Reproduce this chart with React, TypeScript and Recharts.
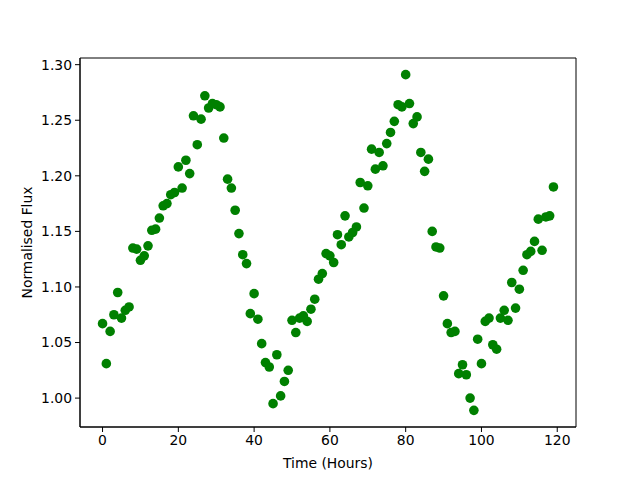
import {
  ScatterChart,
  Scatter,
  XAxis,
  YAxis,
  ReferenceArea,
  Label,
} from 'recharts';

const hours = [
  0, 1, 2, 3, 4, 5, 6, 7, 8, 9, 10, 11, 12, 13, 14, 15, 16, 17, 18, 19,
  20, 21, 22, 23, 24, 25, 26, 27, 28, 29, 30, 31, 32, 33, 34, 35, 36, 37, 38, 39,
  40, 41, 42, 43, 44, 45, 46, 47, 48, 49, 50, 51, 52, 53, 54, 55, 56, 57, 58, 59,
  60, 61, 62, 63, 64, 65, 66, 67, 68, 69, 70, 71, 72, 73, 74, 75, 76, 77, 78, 79,
  80, 81, 82, 83, 84, 85, 86, 87, 88, 89, 90, 91, 92, 93, 94, 95, 96, 97, 98, 99,
  100, 101, 102, 103, 104, 105, 106, 107, 108, 109, 110, 111, 112, 113, 114, 115, 116, 117, 118, 119,
];

const flux = [
  1.067, 1.031, 1.060, 1.075, 1.095, 1.072, 1.079, 1.082, 1.135, 1.134,
  1.124, 1.128, 1.137, 1.151, 1.152, 1.162, 1.173, 1.175, 1.183, 1.185,
  1.208, 1.189, 1.214, 1.202, 1.254, 1.228, 1.251, 1.272, 1.261, 1.265,
  1.264, 1.262, 1.234, 1.197, 1.189, 1.169, 1.148, 1.129, 1.121, 1.076,
  1.094, 1.071, 1.049, 1.032, 1.028, 0.995, 1.039, 1.002, 1.015, 1.025,
  1.070, 1.059, 1.072, 1.074, 1.069, 1.080, 1.089, 1.107, 1.112, 1.130,
  1.128, 1.122, 1.147, 1.138, 1.164, 1.145, 1.149, 1.154, 1.194, 1.171,
  1.191, 1.224, 1.206, 1.221, 1.209, 1.229, 1.239, 1.249, 1.264, 1.262,
  1.291, 1.265, 1.247, 1.253, 1.221, 1.204, 1.215, 1.150, 1.136, 1.135,
  1.092, 1.067, 1.059, 1.060, 1.022, 1.030, 1.021, 1.000, 0.989, 1.053,
  1.031, 1.069, 1.072, 1.048, 1.044, 1.072, 1.079, 1.070, 1.104, 1.081,
  1.098, 1.115, 1.129, 1.132, 1.141, 1.161, 1.133, 1.163, 1.164, 1.190,
];

const xTicks = [0, 20, 40, 60, 80, 100, 120];
const yTicks = [1.0, 1.05, 1.1, 1.15, 1.2, 1.25, 1.3];

const xDomain = [-5.95, 124.95];
const yDomain = [0.974, 1.306];

const data = hours.map((h, i) => ({ hour: h, flux: flux[i] }));

const font = 'DejaVu Sans, sans-serif';

export default function App() {
  return (
    <div style={{ position: 'absolute', left: 0, top: 0, width: 640, height: 480, background: '#fff' }}>
      <ScatterChart
        width={640}
        height={480}
        margin={{ top: 58, right: 64, bottom: 0, left: 0 }}
        style={{ fontFamily: font }}
      >
        <XAxis
          type="number"
          dataKey="hour"
          domain={xDomain}
          ticks={xTicks}
          height={53}
          tickSize={5}
          tickMargin={3}
          allowDataOverflow
          axisLine={{ stroke: '#000' }}
          tickLine={{ stroke: '#000' }}
          tick={{ fill: '#000', fontSize: 13.9, fontFamily: font }}
        >
          <Label
            content={({ viewBox }: any) => (
              <text
                x={viewBox.x + viewBox.width / 2}
                y={468}
                textAnchor="middle"
                fontSize={13.9}
                fontFamily={font}
                fill="#000"
              >
                Time (Hours)
              </text>
            )}
          />
        </XAxis>
        <YAxis
          type="number"
          dataKey="flux"
          domain={yDomain}
          ticks={yTicks}
          width={80}
          tickSize={5}
          tickMargin={3}
          allowDataOverflow
          axisLine={{ stroke: '#000' }}
          tickLine={{ stroke: '#000' }}
          tick={{ fill: '#000', fontSize: 13.9, fontFamily: font }}
          tickFormatter={(v: number) => v.toFixed(2)}
        >
          <Label
            content={({ viewBox }: any) => (
              <text
                x={32}
                y={viewBox.y + viewBox.height / 2}
                textAnchor="middle"
                fontSize={13.9}
                fontFamily={font}
                fill="#000"
                transform={`rotate(-90, 32, ${viewBox.y + viewBox.height / 2})`}
              >
                Normalised Flux
              </text>
            )}
          />
        </YAxis>
        <ReferenceArea
          x1={xDomain[0]}
          x2={xDomain[1]}
          y1={yDomain[0]}
          y2={yDomain[1]}
          fill="none"
          stroke="#000"
          strokeWidth={1}
          fillOpacity={0}
        />
        <Scatter
          data={data}
          isAnimationActive={false}
          shape={(props: any) => (
            <circle cx={props.cx} cy={props.cy} r={4.8} fill="#008000" />
          )}
        />
      </ScatterChart>
    </div>
  );
}
